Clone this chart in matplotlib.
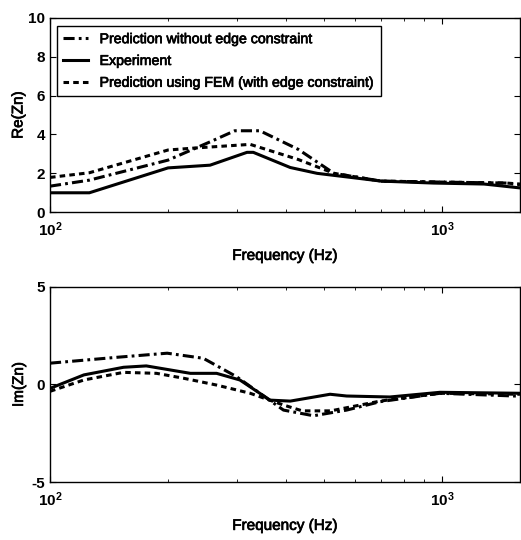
import numpy as np
import matplotlib
matplotlib.use('Agg')
import matplotlib.pyplot as plt
import matplotlib.patheffects as pe

# values (Hz, normalised impedance)
re_exp_freq = [100, 126, 200, 256, 318, 330, 410, 480, 580, 700, 950, 1280, 1580]
re_exp = [1.0, 1.0, 2.28, 2.42, 3.08, 3.08, 2.3, 2.0, 1.8, 1.6, 1.5, 1.45, 1.25]

re_noedge_freq = [100, 126, 200, 256, 296, 343, 430, 530, 700, 1000, 1460, 1580]
re_noedge = [1.34, 1.65, 2.68, 3.62, 4.19, 4.19, 3.23, 2.0, 1.6, 1.55, 1.5, 1.4]

re_fem_freq = [100, 126, 200, 237, 324, 430, 530, 700, 1000, 1460, 1580]
re_fem = [1.79, 2.03, 3.2, 3.31, 3.49, 2.71, 2.0, 1.6, 1.55, 1.5, 1.45]

im_exp_freq = [100, 122, 154, 176, 228, 266, 305, 364, 410, 518, 571, 736, 988, 1580]
im_exp = [-0.2, 0.49, 0.88, 0.95, 0.57, 0.57, 0.23, -0.8, -0.85, -0.5, -0.59, -0.64, -0.4, -0.45]

im_noedge_freq = [100, 148, 199, 246, 299, 394, 470, 571, 695, 988, 1580]
im_noedge = [1.09, 1.39, 1.6, 1.34, 0.4, -1.31, -1.6, -1.31, -0.88, -0.45, -0.6]

im_fem_freq = [100, 122, 154, 187, 219, 266, 324, 394, 440, 520, 695, 988, 1580]
im_fem = [-0.35, 0.23, 0.62, 0.57, 0.32, -0.03, -0.45, -1.05, -1.35, -1.35, -0.85, -0.45, -0.5]

labels = ['Prediction without edge constraint', 'Experiment',
          'Prediction using FEM (with edge constraint)']
re_ticks = [0, 2, 4, 6, 8, 10]
im_ticks = [-5, 0, 5]
freq_ticks = [100, 1000]
freq_ticklabels = [r'$\mathbf{10^2}$', r'$\mathbf{10^3}$']

plt.rcParams['font.family'] = ['Liberation Sans', 'DejaVu Sans']
plt.rcParams['lines.scale_dashes'] = False
plt.rcParams['mathtext.fontset'] = 'custom'
plt.rcParams['mathtext.rm'] = 'Liberation Sans'
plt.rcParams['mathtext.bf'] = 'Liberation Sans:bold'

# scanned print look: slightly heavier strokes on text
heavy = [pe.withStroke(linewidth=0.5, foreground='k')]

fig = plt.figure(figsize=(5.21, 5.40), dpi=100)
ax1 = fig.add_axes([0.096, 0.607, 0.902, 0.360])
ax2 = fig.add_axes([0.096, 0.107, 0.902, 0.362])

lw = 2.2
dashdot = (0, (8, 3, 2, 3))
shortdash = (0, (4, 3))

ax1.plot(re_noedge_freq, re_noedge, color='k', lw=lw, linestyle=dashdot, label=labels[0])
ax1.plot(re_exp_freq, re_exp, color='k', lw=lw, linestyle='-', label=labels[1])
ax1.plot(re_fem_freq, re_fem, color='k', lw=lw, linestyle=shortdash, label=labels[2])

ax2.plot(im_noedge_freq, im_noedge, color='k', lw=lw, linestyle=dashdot)
ax2.plot(im_exp_freq, im_exp, color='k', lw=lw, linestyle='-')
ax2.plot(im_fem_freq, im_fem, color='k', lw=lw, linestyle=shortdash)

for ax in (ax1, ax2):
    ax.set_xscale('log')
    ax.set_xlim(100, 1580)
    ax.set_xticks(freq_ticks)
    ax.set_xticklabels(freq_ticklabels, fontsize=11)
    ax.tick_params(which='both', direction='in', top=True, right=True)
    ax.tick_params(which='major', length=4, width=0.8)
    ax.tick_params(which='minor', length=2.5, width=0.6)
    ax.tick_params(axis='x', pad=6)
    ax.set_xlabel('Frequency (Hz)', fontsize=11, labelpad=7, path_effects=heavy)
    for s in ax.spines.values():
        s.set_linewidth(1.0)

ax1.set_ylim(0, 10)
ax1.set_yticks(re_ticks)
ax1.set_yticklabels([str(v) for v in re_ticks], fontsize=11, fontweight='bold')
ax1.set_ylabel('Re(Zn)', fontsize=11, labelpad=2, path_effects=heavy)
ax2.set_ylim(-5, 5)
ax2.set_yticks(im_ticks)
ax2.set_yticklabels([str(v) for v in im_ticks], fontsize=11, fontweight='bold')
ax2.set_ylabel('Im(Zn)', fontsize=11, labelpad=4, path_effects=heavy)

leg = ax1.legend(loc='upper left', fontsize=10.2, handlelength=1.75, handletextpad=0.8,
                 borderpad=0.45, labelspacing=0.55, borderaxespad=0, fancybox=False,
                 framealpha=1, edgecolor='k', bbox_to_anchor=(0.015, 0.959))
leg.get_frame().set_linewidth(1.0)
for t in leg.get_texts():
    t.set_path_effects(heavy)

fig.savefig('out.png', dpi=100)
